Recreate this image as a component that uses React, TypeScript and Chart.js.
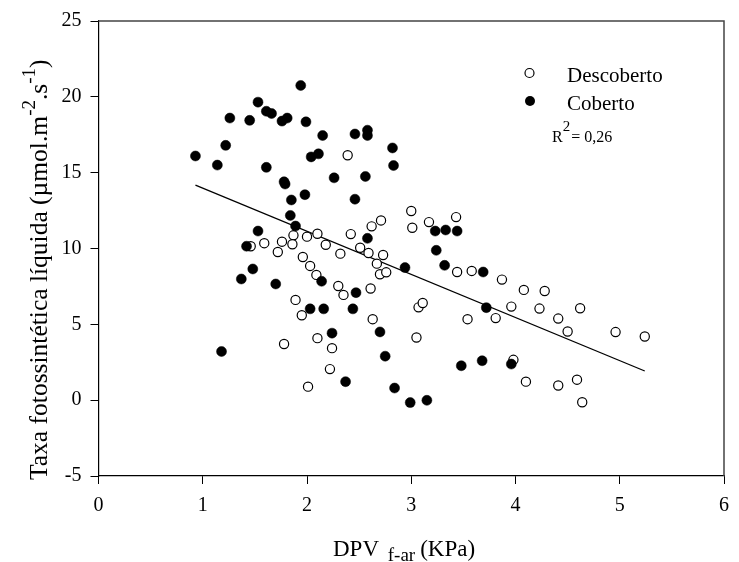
import React, { useEffect, useRef } from 'react';
import { Chart, registerables } from 'chart.js';

Chart.register(...registerables);

// Descoberto (open circles)
const descobertoX = [2.39, 3.0, 3.01, 3.17, 3.43, 1.46, 1.59, 1.76, 1.72, 1.78, 1.87, 1.86, 2.0, 2.1, 2.18, 2.32, 2.42, 2.51, 2.59, 2.62, 2.71, 2.73, 2.67, 2.7, 2.76, 1.96, 2.03, 2.09, 2.3, 2.35, 2.61, 1.89, 1.95, 2.63, 2.1, 2.24, 2.22, 2.01, 3.44, 3.58, 3.07, 3.11, 3.54, 3.05, 3.87, 4.08, 4.28, 3.96, 4.23, 4.62, 3.81, 4.41, 4.5, 4.96, 5.24, 3.98, 4.1, 4.41, 4.59, 4.64];
const descobertoY = [16.15, 12.47, 11.37, 11.74, 12.07, 10.15, 10.35, 10.45, 9.77, 3.7, 10.87, 10.28, 10.78, 10.97, 10.25, 9.66, 10.95, 10.05, 9.7, 11.46, 11.85, 9.57, 9.0, 8.3, 8.43, 9.44, 8.85, 8.26, 7.53, 6.94, 7.36, 6.61, 5.6, 5.34, 4.09, 3.43, 2.05, 0.89, 8.45, 8.52, 6.12, 6.41, 5.34, 4.13, 7.95, 7.27, 7.2, 6.17, 6.04, 6.06, 5.41, 5.38, 4.53, 4.49, 4.2, 2.66, 1.22, 0.97, 1.35, -0.14];

// Coberto (filled circles)
const cobertoX = [0.93, 1.14, 1.22, 1.26, 1.45, 1.53, 1.61, 1.66, 1.76, 1.81, 1.61, 1.78, 1.79, 1.85, 1.94, 1.99, 2.15, 2.46, 2.58, 2.58, 2.82, 2.83, 2.04, 2.11, 2.26, 2.56, 1.98, 2.46, 1.53, 1.42, 1.48, 1.37, 1.7, 1.18, 1.84, 1.89, 2.58, 2.14, 2.47, 2.03, 2.16, 2.44, 2.7, 2.24, 2.75, 2.37, 2.84, 2.99, 3.15, 3.23, 3.33, 3.44, 3.24, 3.32, 3.69, 2.94, 3.72, 3.48, 3.68, 3.96];
const cobertoY = [16.1, 15.5, 16.8, 18.6, 18.45, 19.65, 19.05, 18.9, 18.4, 18.6, 15.35, 14.4, 14.25, 13.2, 20.75, 18.35, 17.45, 17.55, 17.8, 17.45, 16.63, 15.47, 16.04, 16.24, 14.66, 14.75, 13.55, 13.25, 11.15, 10.15, 8.65, 7.99, 7.66, 3.21, 12.18, 11.48, 10.67, 7.84, 7.09, 6.02, 6.02, 6.02, 4.5, 4.42, 2.9, 1.22, 0.8, -0.16, -0.01, 11.15, 11.22, 11.15, 9.88, 8.89, 8.45, 8.74, 6.1, 2.27, 2.6, 2.38];

// Regression line
const fitRangeX = [0.93, 5.24];
const fitIntercept = 16.83;
const fitSlope = -2.845;

const xTicks = [0, 1, 2, 3, 4, 5, 6];
const yTicks = [-5, 0, 5, 10, 15, 20, 25];

const legendLabels = ['Descoberto', 'Coberto'];
const r2Text = '= 0,26';

const FONT = '"Liberation Serif", "Times New Roman", serif';

const decorPlugin = {
  id: 'decor',
  afterDraw(chart: any) {
    const ctx = chart.ctx as CanvasRenderingContext2D;
    const a = chart.chartArea;
    ctx.save();
    // frame: top & right
    ctx.strokeStyle = '#444';
    ctx.lineWidth = 1.5;
    ctx.beginPath();
    ctx.moveTo(a.left, a.top);
    ctx.lineTo(a.right, a.top);
    ctx.lineTo(a.right, a.bottom);
    ctx.stroke();

    ctx.fillStyle = '#000';
    ctx.textBaseline = 'alphabetic';
    ctx.textAlign = 'left';

    // X title
    let x = 333;
    ctx.font = `23px ${FONT}`;
    ctx.fillText('DPV', x, 556);
    x += ctx.measureText('DPV ').width + 3;
    ctx.font = `19px ${FONT}`;
    ctx.fillText('f-ar', x, 561);
    x += ctx.measureText('f-ar').width + 5;
    ctx.font = `23px ${FONT}`;
    ctx.fillText('(KPa)', x, 556);

    // Y title (rotated)
    ctx.save();
    ctx.translate(47, 480);
    ctx.rotate(-Math.PI / 2);
    let t = 0;
    const big = `25.5px ${FONT}`;
    const sup = `19px ${FONT}`;
    const parts: [string, string, number][] = [
      ['Taxa fotossintética líquida (µmol.m', big, 0],
      ['-2', sup, -12],
      ['.s', big, 0],
      ['-1', sup, -12],
      [')', big, 0],
    ];
    for (const [s, f, dy] of parts) {
      ctx.font = f;
      ctx.fillText(s, t, dy);
      t += ctx.measureText(s).width;
    }
    ctx.restore();

    // Legend
    ctx.font = `21px ${FONT}`;
    ctx.beginPath();
    ctx.arc(529.5, 73, 4.5, 0, Math.PI * 2);
    ctx.fillStyle = '#fff';
    ctx.fill();
    ctx.lineWidth = 1.2;
    ctx.strokeStyle = '#000';
    ctx.stroke();
    ctx.beginPath();
    ctx.arc(530, 101, 5, 0, Math.PI * 2);
    ctx.fillStyle = '#000';
    ctx.fill();
    ctx.fillText(legendLabels[0], 567, 82);
    ctx.fillText(legendLabels[1], 567, 110);

    ctx.font = `16px ${FONT}`;
    ctx.fillText('R', 552, 142);
    let rx = 552 + ctx.measureText('R').width;
    ctx.font = `15px ${FONT}`;
    ctx.fillText('2', rx, 131);
    rx += ctx.measureText('2').width + 1;
    ctx.font = `16px ${FONT}`;
    ctx.fillText(r2Text, rx, 142);
    ctx.restore();
  },
};

export default function App() {
  const ref = useRef<HTMLCanvasElement>(null);
  useEffect(() => {
    if (!ref.current) return;
    const chart = new Chart(ref.current, {
      type: 'scatter',
      data: {
        datasets: [
          {
            type: 'line',
            label: 'fit',
            data: fitRangeX.map((v) => ({ x: v, y: fitIntercept + fitSlope * v })),
            borderColor: '#000',
            borderWidth: 1.3,
            pointRadius: 0,
            fill: false,
            order: 3,
          } as any,
          {
            label: legendLabels[0],
            data: descobertoX.map((v, i) => ({ x: v, y: descobertoY[i] })),
            pointRadius: 4.6,
            pointBorderWidth: 1.2,
            pointBackgroundColor: '#fff',
            pointBorderColor: '#000',
            order: 2,
          },
          {
            label: legendLabels[1],
            data: cobertoX.map((v, i) => ({ x: v, y: cobertoY[i] })),
            pointRadius: 5,
            pointBorderWidth: 0.5,
            pointBackgroundColor: '#000',
            pointBorderColor: '#000',
            order: 1,
          },
        ],
      },
      options: {
        animation: false,
        responsive: false,
        devicePixelRatio: 1,
        layout: { padding: { left: 0, top: 18, right: 10, bottom: 0 } },
        plugins: { legend: { display: false }, tooltip: { enabled: false }, title: { display: false } },
        scales: {
          x: {
            type: 'linear',
            min: 0,
            max: 6,
            afterFit: (s: any) => { s.height = 86; },
            afterBuildTicks: (s: any) => { s.ticks = xTicks.map((v) => ({ value: v })); },
            grid: { display: true, drawOnChartArea: false, drawTicks: true, tickLength: 8, color: '#000', lineWidth: 1 },
            border: { display: true, color: '#000', width: 1.2 },
            ticks: { color: '#000', font: { family: FONT, size: 20 }, padding: 10, maxRotation: 0 },
          },
          y: {
            type: 'linear',
            min: -5,
            max: 25,
            afterFit: (s: any) => { s.width = 98.5; },
            afterBuildTicks: (s: any) => { s.ticks = yTicks.map((v) => ({ value: v })); },
            grid: { display: true, drawOnChartArea: false, drawTicks: true, tickLength: 8, color: '#000', lineWidth: 1 },
            border: { display: true, color: '#000', width: 1.2 },
            ticks: { color: '#000', font: { family: FONT, size: 20 }, padding: 9 },
          },
        },
      },
      plugins: [decorPlugin],
    });
    return () => chart.destroy();
  }, []);
  return (
    <div style={{ position: 'fixed', left: 0, top: 0, width: 739, height: 562, background: '#fff' }}>
      <canvas ref={ref} width={739} height={562} style={{ display: 'block', width: 739, height: 562 }} />
    </div>
  );
}
